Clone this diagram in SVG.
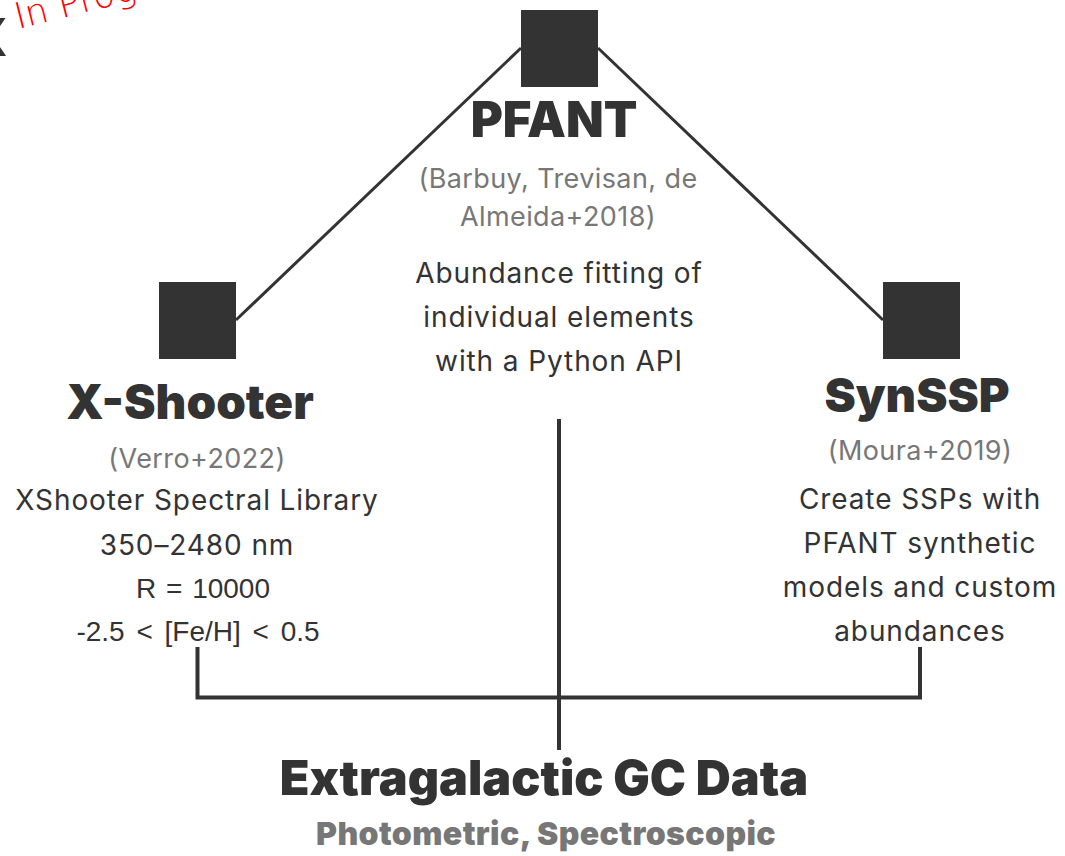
<svg xmlns="http://www.w3.org/2000/svg" width="1065" height="856" viewBox="0 0 1065 856">
<style>
.sq{fill:#333333}
.ln{stroke:#333333;fill:none;stroke-linecap:butt}
.title{font-family:Inter,"Noto Sans",sans-serif;font-weight:900;fill:#333333;text-anchor:middle}
.cite{font-family:Inter,"Noto Sans",sans-serif;font-weight:400;fill:#777777;text-anchor:middle;font-size:27px;letter-spacing:0.4px}
.body{font-family:Inter,"Noto Sans",sans-serif;font-weight:400;fill:#333333;text-anchor:middle;font-size:28px;letter-spacing:0.9px}
.arial{font-family:"Liberation Sans",Arial,sans-serif;font-weight:400;fill:#333333;text-anchor:middle;font-size:28px;word-spacing:4px}
.sub{font-family:Inter,"Noto Sans",sans-serif;font-weight:900;fill:#777777;text-anchor:middle;font-size:32px;letter-spacing:0.4px}
</style>
<rect width="1065" height="856" fill="#ffffff"/>
<g id="annotation">
<text x="-33" y="56" font-family="DejaVu Sans,sans-serif" font-weight="bold" font-size="52" fill="#333333">X</text>
<text transform="translate(18,29) rotate(-14)" font-family="'DejaVu Sans',sans-serif" font-weight="300" font-size="36" fill="#ff0000">In Progress</text>
</g>
<g id="connectors">
<line class="ln" x1="521" y1="48" x2="236" y2="320" stroke-width="3"/>
<line class="ln" x1="598" y1="48" x2="883" y2="320" stroke-width="3"/>
<line class="ln" x1="559" y1="419" x2="559" y2="750" stroke-width="4"/>
<polyline class="ln" points="197.5,647 197.5,697.5 920,697.5 920,647" stroke-width="4"/>
</g>
<g id="pfant">
<rect class="sq" x="521" y="10" width="77" height="77"/>
<text class="title" x="554" y="137" font-size="49">PFANT</text>
<text class="cite" x="558" y="188">(Barbuy, Trevisan, de</text>
<text class="cite" x="558" y="226">Almeida+2018)</text>
<text class="body" x="559" y="283">Abundance fitting of</text>
<text class="body" x="559" y="327">individual elements</text>
<text class="body" x="559" y="371">with a Python API</text>
</g>
<g id="xshooter">
<rect class="sq" x="159" y="282" width="77" height="77"/>
<text class="title" x="190" y="419" font-size="47.5">X-Shooter</text>
<text class="cite" x="197" y="468">(Verro+2022)</text>
<text class="body" x="197" y="510">XShooter Spectral Library</text>
<text class="body" x="197" y="555">350–2480 nm</text>
<text class="arial" x="203" y="598" style="word-spacing:2px">R = 10000</text>
<text class="arial" x="198" y="641">-2.5 &lt; [Fe/H] &lt; 0.5</text>
</g>
<g id="synssp">
<rect class="sq" x="883" y="282" width="77" height="77"/>
<text class="title" x="917" y="412" font-size="47">SynSSP</text>
<text class="cite" x="920" y="460">(Moura+2019)</text>
<text class="body" x="920" y="509">Create SSPs with</text>
<text class="body" x="920" y="553">PFANT synthetic</text>
<text class="body" x="920" y="597">models and custom</text>
<text class="body" x="920" y="641">abundances</text>
</g>
<g id="gcdata">
<text class="title" x="544" y="795" font-size="48.5">Extragalactic GC Data</text>
<text class="sub" x="546" y="845">Photometric, Spectroscopic</text>
</g>
</svg>
